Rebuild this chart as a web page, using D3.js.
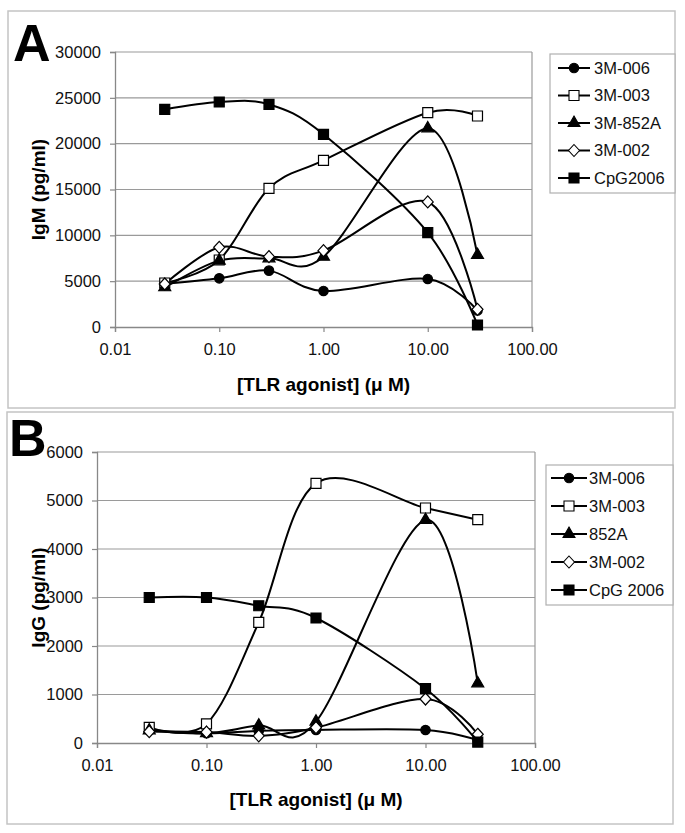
<!DOCTYPE html>
<html>
<head>
<meta charset="utf-8">
<script src="https://cdn.jsdelivr.net/npm/d3@7"></script>
<style>
  html, body { margin: 0; padding: 0; background: #fff; }
  svg { display: block; font-family: "Liberation Sans", Arial, sans-serif; }
</style>
</head>
<body>
<svg id="chart" width="685" height="833"></svg>
<script>
// ---------- data ----------
const concentrations = [0.03, 0.1, 0.3, 1, 10, 30];
const xTickValues = [0.01, 0.1, 1, 10, 100];
const xTickLabels = ["0.01", "0.10", "1.00", "10.00", "100.00"];

// Panel A: IgM (pg/ml)
const igmNames = ["3M-006", "3M-003", "3M-852A", "3M-002", "CpG2006"];
const igm3M006 = [4700, 5310, 6150, 3930, 5240, 1800];
const igm3M003 = [4800, 7310, 15130, 18180, 23380, 23020];
const igm3M852A = [4330, 7240, 7490, 7670, 21670, 7850];
const igm3M002 = [4690, 8690, 7670, 8330, 13640, 1930];
const igmCpG2006 = [23750, 24545, 24290, 21020, 10290, 220];
const igmTicks = [0, 5000, 10000, 15000, 20000, 25000, 30000];

// Panel B: IgG (pg/ml)
const iggNames = ["3M-006", "3M-003", "852A", "3M-002", "CpG 2006"];
const igg3M006 = [270, 200, 250, 270, 268, 60];
const igg3M003 = [323, 395, 2488, 5354, 4845, 4605];
const igg852A = [260, 200, 360, 440, 4598, 1230];
const igg3M002 = [234, 225, 148, 316, 907, 180];
const iggCpG2006 = [3000, 3000, 2830, 2577, 1120, 20];
const iggTicks = [0, 1000, 2000, 3000, 4000, 5000, 6000];

const markerTypes = ["circle", "openSquare", "triangle", "openDiamond", "square"];

// ---------- drawing ----------
const svg = d3.select("#chart");
const FONT = "'Liberation Sans', Arial, sans-serif";

function markerPath(type) {
  switch (type) {
    case "circle": return d3.symbol(d3.symbolCircle, 70)();
    case "square": case "openSquare": return d3.symbol(d3.symbolSquare, 100)();
    case "triangle": return d3.symbol(d3.symbolTriangle, 62)();
    case "openDiamond": return "M0,-6L5.5,0L0,6L-5.5,0Z";
  }
}
function markerFill(type) { return type.startsWith("open") ? "#fff" : "#000"; }

function drawPanel(cfg) {
  const g = svg.append("g");
  // outer frame
  g.append("rect").attr("x", cfg.frame[0]).attr("y", cfg.frame[1])
    .attr("width", cfg.frame[2]).attr("height", cfg.frame[3])
    .attr("fill", "none").attr("stroke", "#c4c4c4").attr("stroke-width", 1.5);

  const x = d3.scaleLog().domain([0.01, 100]).range([cfg.left, cfg.right]);
  const y = d3.scaleLinear().domain([0, cfg.yMax]).range([cfg.bottom, cfg.top]);

  // gridlines
  g.append("g").selectAll("line").data(cfg.yTicks.slice(1)).join("line")
    .attr("x1", cfg.left).attr("x2", cfg.right)
    .attr("y1", d => y(d)).attr("y2", d => y(d))
    .attr("stroke", "#9a9a9a").attr("stroke-width", 1.2);
  // right border
  g.append("line").attr("x1", cfg.right).attr("x2", cfg.right)
    .attr("y1", cfg.top).attr("y2", cfg.bottom)
    .attr("stroke", "#9a9a9a").attr("stroke-width", 1.2);

  // y axis
  const yAxis = d3.axisLeft(y).tickValues(cfg.yTicks).tickFormat(d3.format("d"))
    .tickSize(5).tickPadding(9);
  const ya = g.append("g").attr("transform", `translate(${cfg.left},0)`).call(yAxis);
  ya.select(".domain").attr("stroke", "#888").attr("stroke-width", 1.3);
  ya.selectAll(".tick line").attr("stroke", "#888").attr("stroke-width", 1.2);
  ya.selectAll(".tick text").attr("font-family", FONT).attr("font-size", 16.5).attr("fill", "#111");

  // x axis
  const xAxis = d3.axisBottom(x).tickValues(xTickValues)
    .tickFormat((d, i) => xTickLabels[i]).tickSize(5).tickPadding(11);
  const xa = g.append("g").attr("transform", `translate(0,${cfg.bottom})`).call(xAxis);
  xa.select(".domain").attr("stroke", "#888").attr("stroke-width", 1.3);
  xa.selectAll(".tick line").attr("stroke", "#888").attr("stroke-width", 1.2);
  xa.selectAll(".tick text").attr("font-family", FONT).attr("font-size", 16.5).attr("fill", "#111");

  // series lines
  const line = d3.line()
    .x((d, i) => x(concentrations[i]))
    .y(d => y(d))
    .curve(d3.curveCatmullRom.alpha(0));
  cfg.series.forEach(s => {
    g.append("path").datum(s).attr("d", line)
      .attr("fill", "none").attr("stroke", "#000").attr("stroke-width", 2);
  });
  // markers
  cfg.series.forEach((s, si) => {
    const t = markerTypes[si];
    g.append("g").selectAll("path").data(s).join("path")
      .attr("transform", (d, i) => `translate(${x(concentrations[i])},${y(d)})`)
      .attr("d", markerPath(t))
      .attr("fill", markerFill(t)).attr("stroke", "#000").attr("stroke-width", 1.2);
  });

  // panel letter
  g.append("text").attr("x", cfg.letterPos[0]).attr("y", cfg.letterPos[1])
    .attr("font-family", FONT).attr("font-weight", "bold").attr("font-size", 52)
    .text(cfg.letter);

  // axis titles
  g.append("text")
    .attr("transform", `translate(${cfg.yTitleX},${(cfg.top + cfg.bottom) / 2}) rotate(-90)`)
    .attr("text-anchor", "middle").attr("font-family", FONT).attr("font-weight", "bold")
    .attr("font-size", 19).attr("dy", "0.35em").text(cfg.yTitle);
  g.append("text")
    .attr("x", (cfg.left + cfg.right) / 2).attr("y", cfg.xTitleY)
    .attr("text-anchor", "middle").attr("font-family", FONT).attr("font-weight", "bold")
    .attr("font-size", 19).attr("dy", "0.35em").text("[TLR agonist] (\u03bc M)");

  // legend
  const L = cfg.legend;
  g.append("rect").attr("x", L.x).attr("y", L.y).attr("width", L.w).attr("height", L.h)
    .attr("fill", "#fff").attr("stroke", "#b0b0b0").attr("stroke-width", 1.2);
  cfg.names.forEach((name, i) => {
    const yy = L.firstY + i * L.step;
    const t = markerTypes[i];
    g.append("line").attr("x1", L.lineX1).attr("x2", L.lineX2).attr("y1", yy).attr("y2", yy)
      .attr("stroke", "#000").attr("stroke-width", 2);
    g.append("path").attr("transform", `translate(${(L.lineX1 + L.lineX2) / 2},${yy})`)
      .attr("d", markerPath(t)).attr("fill", markerFill(t)).attr("stroke", "#000").attr("stroke-width", 1.1);
    g.append("text").attr("x", L.textX).attr("y", yy).attr("dy", "0.36em")
      .attr("font-family", FONT).attr("font-size", 16.5).attr("fill", "#111").text(name);
  });
}

drawPanel({
  frame: [8, 11, 667, 397],
  left: 115, right: 532, top: 52, bottom: 327,
  yMax: 30000, yTicks: igmTicks,
  series: [igm3M006, igm3M003, igm3M852A, igm3M002, igmCpG2006],
  names: igmNames,
  letter: "A", letterPos: [13, 61],
  yTitle: "IgM  (pg/ml)", yTitleX: 38, xTitleY: 384,
  legend: { x: 550, y: 54, w: 125, h: 139, firstY: 68, step: 27.5, lineX1: 558, lineX2: 590, textX: 594 }
});

drawPanel({
  frame: [7, 412, 666, 412],
  left: 97, right: 535, top: 452, bottom: 743,
  yMax: 6000, yTicks: iggTicks,
  series: [igg3M006, igg3M003, igg852A, igg3M002, iggCpG2006],
  names: iggNames,
  letter: "B", letterPos: [9, 456],
  yTitle: "IgG  (pg/ml)", yTitleX: 38, xTitleY: 799,
  legend: { x: 546, y: 465, w: 127, h: 140, firstY: 478, step: 28, lineX1: 551, lineX2: 587, textX: 589 }
});
</script>
</body>
</html>
